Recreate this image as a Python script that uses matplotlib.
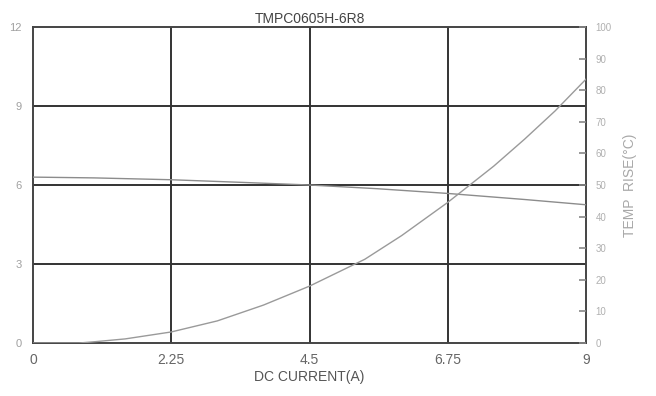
import matplotlib
matplotlib.use("Agg")
import matplotlib.pyplot as plt

plt.rcParams['font.family'] = ['Liberation Sans', 'DejaVu Sans']

# inductance vs current (left axis, uH)
ind_current = [0, 1.0, 2.25, 3.4, 4.5, 5.6, 6.75, 8.0, 9.0]
ind_values = [6.3, 6.27, 6.2, 6.1, 6.0, 5.86, 5.68, 5.45, 5.25]

# temperature rise vs current (right axis, degC)
temp_current = [0, 0.75, 1.0, 1.5, 2.25, 3.0, 3.75, 4.5, 5.4, 6.0, 6.75, 7.5, 8.0, 8.5, 9.0]
temp_values = [0, 0.0, 0.4, 1.3, 3.5, 7.0, 12.0, 18.0, 26.5, 34.0, 44.5, 56.0, 64.5, 73.5, 83.5]

x_ticks = [0, 2.25, 4.5, 6.75, 9]
x_labels = ['0', '2.25', '4.5', '6.75', '9']
y_ticks = [0, 3, 6, 9, 12]
temp_ticks = list(range(0, 101, 10))

fig = plt.figure(figsize=(6.56, 3.96), dpi=100)
ax = fig.add_axes([0.0503, 0.1338, 0.843, 0.798])

grid_c = '#333333'
for xv in x_ticks[1:-1]:
    ax.axvline(xv, color=grid_c, lw=1.4, zorder=1)
for yv in y_ticks[1:-1]:
    ax.axhline(yv, color=grid_c, lw=1.4, zorder=1)

ax.plot(ind_current, ind_values, color='#8c8c8c', lw=1.0, zorder=3)

ax.set_xlim(0, 9)
ax.set_ylim(0, 12)
ax.set_xticks(x_ticks)
ax.set_xticklabels(x_labels)
ax.set_yticks(y_ticks)
ax.tick_params(axis='x', length=0, pad=7, labelsize=10, labelcolor='#666666')
ax.tick_params(axis='y', length=0, pad=8, labelsize=8, labelcolor='#a0a0a0')
for s in ax.spines.values():
    s.set_color('#444444')
    s.set_linewidth(1.4)
ax.set_xlabel('DC CURRENT(A)', fontsize=10, color='#555555', labelpad=2)
ax.set_title('TMPC0605H-6R8', fontsize=10, color='#444444', pad=3)

ax2 = ax.twinx()
ax2.plot(temp_current, temp_values, color='#9a9a9a', lw=1.0, zorder=3)
ax2.set_ylim(0, 100)
ax2.set_yticks(temp_ticks)
ax2.tick_params(axis='y', direction='in', length=5, width=1.2, color='#888888',
                pad=7, labelsize=7, labelcolor='#b0b0b0')
ax2.set_ylabel('TEMP  RISE(°C)', fontsize=10, color='#a8a8a8', labelpad=8)
for s in ax2.spines.values():
    s.set_visible(False)

fig.savefig('out.png', dpi=100)
